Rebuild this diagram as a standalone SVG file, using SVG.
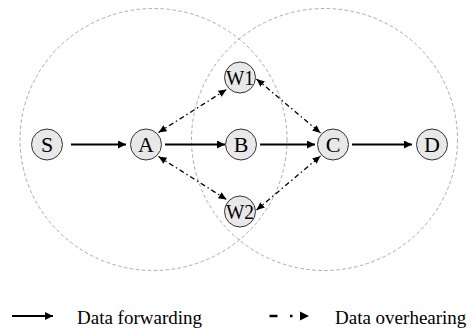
<svg xmlns="http://www.w3.org/2000/svg" width="473" height="331" viewBox="0 0 473 331">
<style>
.range{fill:none;stroke:#aaaaaa;stroke-width:1;stroke-dasharray:3.5 2.5}
.node circle{fill:#e8e8e8;stroke:#333;stroke-width:1}
.node text{font-size:22px;fill:#000;text-anchor:middle}
.fwd{stroke:#000;stroke-width:2;fill:none;marker-end:url(#ah)}
.ovh{stroke:#000;stroke-width:1.3;fill:none;stroke-dasharray:5 3 1.5 3;marker-start:url(#oh);marker-end:url(#oh)}
.lg{font-size:19px;fill:#000}
</style>
<defs>
<marker id="ah" markerUnits="userSpaceOnUse" markerWidth="10" markerHeight="10" refX="8" refY="4" orient="auto">
<path d="M0,0 L8,4 L0,8 Z" fill="#000"/>
</marker>
<marker id="oh" markerUnits="userSpaceOnUse" markerWidth="10" markerHeight="10" refX="8" refY="3.5" orient="auto-start-reverse">
<path d="M0,0 L8,3.5 L0,7 Z" fill="#000"/>
</marker>
</defs>
<g id="ranges">
<ellipse class="range" cx="153.5" cy="139.5" rx="133.5" ry="131"/>
<ellipse class="range" cx="324.5" cy="139.5" rx="133" ry="131"/>
</g>
<g id="connectors">
<line class="fwd" x1="71" y1="144.5" x2="126" y2="144.5"/>
<line class="fwd" x1="165" y1="144.5" x2="225" y2="144.5"/>
<line class="fwd" x1="260" y1="144.5" x2="315" y2="144.5"/>
<line class="fwd" x1="352" y1="144.5" x2="412" y2="144.5"/>
<line class="ovh" x1="158.5" y1="132.5" x2="226.5" y2="89.5"/>
<line class="ovh" x1="158.5" y1="156.5" x2="226.5" y2="199.5"/>
<line class="ovh" x1="256.5" y1="79" x2="320.5" y2="133"/>
<line class="ovh" x1="256.5" y1="210" x2="320.5" y2="156"/>
</g>
<g font-family="'Liberation Serif', 'DejaVu Serif', serif">
<g id="S" class="node"><circle cx="47" cy="144.5" r="15.5"/><text x="47" y="152">S</text></g>
<g id="A" class="node"><circle cx="146" cy="144.5" r="15.5"/><text x="146" y="152">A</text></g>
<g id="B" class="node"><circle cx="241" cy="144.5" r="15.5"/><text x="241" y="152">B</text></g>
<g id="C" class="node"><circle cx="333" cy="144.5" r="15.5"/><text x="333" y="152">C</text></g>
<g id="D" class="node"><circle cx="432" cy="144.5" r="15.5"/><text x="432" y="152">D</text></g>
<g id="W1" class="node"><circle cx="240" cy="77.5" r="15.5"/><text x="240" y="85" textLength="28" lengthAdjust="spacingAndGlyphs">W1</text></g>
<g id="W2" class="node"><circle cx="240" cy="211.5" r="15.5"/><text x="240" y="219" textLength="28" lengthAdjust="spacingAndGlyphs">W2</text></g>
<g id="legend">
<line x1="12" y1="316" x2="53" y2="316" stroke="#000" stroke-width="2" marker-end="url(#ah)"/>
<text class="lg" x="77" y="324">Data forwarding</text>
<line x1="269.5" y1="316" x2="277.5" y2="316" stroke="#000" stroke-width="2.5"/>
<line x1="290" y1="316" x2="292.5" y2="316" stroke="#000" stroke-width="2.5"/>
<path d="M300,311.5 L309,316 L300,320.5 Z" fill="#000"/>
<text class="lg" x="335" y="324">Data overhearing</text>
</g>
</g>
</svg>
